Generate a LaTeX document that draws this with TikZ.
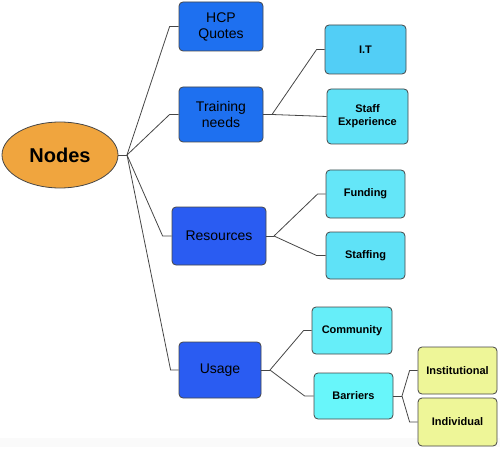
\documentclass[tikz,border=0pt]{standalone}
\usepackage{fontspec}
\setmainfont{Liberation Sans}
\usetikzlibrary{shapes.geometric}
\definecolor{orangeN}{RGB}{240,165,62}
\definecolor{blueA}{RGB}{30,112,240}
\definecolor{blueB}{RGB}{42,92,242}
\definecolor{cyanIT}{RGB}{82,206,246}
\definecolor{cyanSE}{RGB}{95,226,247}
\definecolor{cyanF}{RGB}{100,230,248}
\definecolor{cyanC}{RGB}{102,238,249}
\definecolor{cyanB}{RGB}{104,246,250}
\definecolor{yellowL}{RGB}{238,246,152}
\definecolor{edgeG}{RGB}{70,70,70}
\tikzset{
  x=1pt, y=-1pt,
  box/.style={draw=edgeG, line width=0.8pt, rounded corners=4pt, align=center, inner sep=1pt},
  lvlone/.style={box, font=\fontsize{14}{16}\selectfont},
  lvltwo/.style={box, font=\bfseries\fontsize{11}{13}\selectfont},
  conn/.style={draw=edgeG, line width=0.8pt}
}
\begin{document}
\begin{tikzpicture}
\useasboundingbox (0,0) rectangle (500,449);
\fill[gray!4] (0,438) rectangle (500,447);
\node[ellipse, draw=edgeG, line width=0.8pt, fill=orangeN, minimum width=116pt, minimum height=66pt, font=\bfseries\fontsize{20}{22}\selectfont] (root) at (60,155) {Nodes};

\node[lvlone, fill=blueA, minimum width=84pt, minimum height=49pt] (hcp) at (221,26.5) {HCP\\Quotes};
\node[lvlone, fill=blueA, minimum width=84pt, minimum height=55pt] (train) at (221,114.5) {Training\\needs};
\node[lvlone, fill=blueB, minimum width=94pt, minimum height=58pt] (res) at (219,236) {Resources};
\node[lvlone, fill=blueB, minimum width=82pt, minimum height=56pt] (use) at (220,370) {Usage};

\node[lvltwo, fill=cyanIT, minimum width=81pt, minimum height=49pt] (it) at (365.5,49.5) {I.T};
\node[lvltwo, fill=cyanSE, minimum width=81pt, minimum height=55pt] (staff) at (367.5,116.5) {Staff\\Experience};
\node[lvltwo, fill=cyanF, minimum width=79pt, minimum height=48pt] (fund) at (365.5,194) {Funding};
\node[lvltwo, fill=cyanSE, minimum width=79pt, minimum height=47pt] (staffing) at (365.5,255.5) {Staffing};
\node[lvltwo, fill=cyanC, minimum width=80pt, minimum height=47pt] (comm) at (352,330.5) {Community};
\node[lvltwo, fill=cyanB, minimum width=79pt, minimum height=46pt] (barr) at (353.5,396) {Barriers};
\node[lvltwo, fill=yellowL, minimum width=79pt, minimum height=47pt] (inst) at (457.5,370.5) {Institutional};
\node[lvltwo, fill=yellowL, minimum width=79pt, minimum height=48pt] (indiv) at (457.5,422) {Individual};

\coordinate (j0) at (127,155);
\coordinate (j1) at (272,114.5);
\coordinate (j2) at (274,236);
\coordinate (j3) at (270,370);
\coordinate (j4) at (402,396);

\draw[conn] (root.east) -- (j0);
\draw[conn] (j0) -- ([xshift=-9pt]hcp.west) -- (hcp.west);
\draw[conn] (j0) -- ([xshift=-9pt]train.west) -- (train.west);
\draw[conn] (j0) -- ([xshift=-9pt]res.west) -- (res.west);
\draw[conn] (j0) -- ([xshift=-8pt]use.west) -- (use.west);

\draw[conn] (train.east) -- (j1);
\draw[conn] (j1) -- ([xshift=-8pt]it.west) -- (it.west);
\draw[conn] (j1) -- (staff.west);

\draw[conn] (res.east) -- (j2);
\draw[conn] (j2) -- ([xshift=-8pt]fund.west) -- (fund.west);
\draw[conn] (j2) -- ([xshift=-9pt]staffing.west) -- (staffing.west);

\draw[conn] (use.east) -- (j3);
\draw[conn] (j3) -- ([xshift=-8pt]comm.west) -- (comm.west);
\draw[conn] (j3) -- ([xshift=-9pt]barr.west) -- (barr.west);

\draw[conn] (barr.east) -- (j4);
\draw[conn] (j4) -- ([xshift=-8pt]inst.west) -- (inst.west);
\draw[conn] (j4) -- ([xshift=-8pt]indiv.west) -- (indiv.west);
\end{tikzpicture}
\end{document}
